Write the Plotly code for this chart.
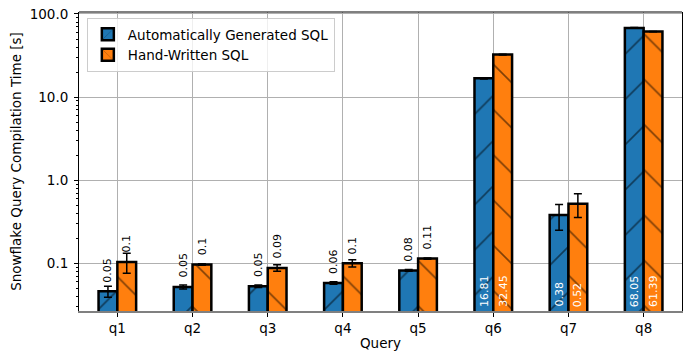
import plotly.graph_objects as go
import math

queries = ["q1", "q2", "q3", "q4", "q5", "q6", "q7", "q8"]
auto_vals = [0.046, 0.052, 0.053, 0.058, 0.082, 16.81, 0.38, 68.05]
auto_err = [0.007, 0.003, 0.002, 0.002, 0.002, 0.3, 0.13, 0.6]
hand_vals = [0.104, 0.097, 0.088, 0.100, 0.114, 32.45, 0.52, 61.39]
hand_err = [0.028, 0.002, 0.008, 0.010, 0.002, 0.3, 0.165, 0.3]
ytick_vals = [0.1, 1, 10, 100]
ytick_text = ["0.1", "1.0", "10.0", "100.0"]

FONT = "DejaVu Sans"
BLUE = "#1f77b4"
ORANGE = "#ff7f0e"

fig = go.Figure()
for name, vals, errs, color, shape in [
    ("Automatically Generated SQL", auto_vals, auto_err, BLUE, "/"),
    ("Hand-Written SQL", hand_vals, hand_err, ORANGE, "\\"),
]:
    fig.add_trace(go.Bar(
        x=queries, y=vals, name=name,
        marker=dict(color=color, line=dict(color="black", width=2.5),
                    pattern=dict(shape=shape, size=32, solidity=0.05,
                                 fgcolor="black", bgcolor=color)),
        error_y=dict(type="data", array=errs, visible=True, color="black",
                     thickness=1.5, width=4),
    ))

annotations = []
for offset, vals in [(-0.125, auto_vals), (0.125, hand_vals)]:
    for i, v in enumerate(vals):
        label = str(round(v, 2))
        if v > 0.3:
            annotations.append(dict(
                x=i + offset, y=0, xref="x", yref="paper", text=label,
                textangle=-90, showarrow=False, yanchor="bottom", xanchor="center",
                yshift=2, font=dict(family=FONT, size=11, color="white")))
        else:
            annotations.append(dict(
                x=i + offset, y=math.log10(v), xref="x", yref="y", text=label,
                textangle=-90, showarrow=False, yanchor="bottom", xanchor="center",
                yshift=7, font=dict(family=FONT, size=11, color="black")))

fig.update_layout(
    width=694, height=353,
    margin=dict(l=79, r=12, t=12, b=42, autoexpand=False),
    paper_bgcolor="white", plot_bgcolor="white",
    barmode="group", bargap=0.5, bargroupgap=0,
    font=dict(family=FONT, size=13.5, color="black"),
    showlegend=True,
    legend=dict(x=0.013, y=0.98, xanchor="left", yanchor="top",
                bgcolor="rgba(255,255,255,0.8)", bordercolor="#cccccc", borderwidth=1,
                font=dict(family=FONT, size=13.5), tracegroupgap=0),
    annotations=annotations,
    shapes=[dict(type="line", xref="paper", yref="paper", x0=0, x1=1, y0=1, y1=1,
                 line=dict(color="black", width=1))],
)
fig.update_xaxes(
    range=[-0.51, 7.51], showgrid=True, gridcolor="#b0b0b0", gridwidth=1,
    showline=True, linecolor="#808080", linewidth=2,
    ticks="outside", ticklen=4, tickcolor="black", automargin=False,
    title=dict(text="Query", font=dict(family=FONT, size=13.5), standoff=3),
)
fig.update_yaxes(
    type="log", range=[-1.574, 2.024],
    tickmode="array", tickvals=ytick_vals, ticktext=ytick_text,
    showgrid=True, gridcolor="#b0b0b0", gridwidth=1,
    showline=True, linecolor="black", linewidth=1, mirror=True,
    ticks="outside", ticklen=4, tickcolor="black", automargin=False,
    ticklabelstandoff=3,
    minor=dict(ticks="outside", ticklen=2, tickcolor="black", dtick="D1", showgrid=False),
    title=dict(text="Snowflake Query Compilation Time [s]", font=dict(family=FONT, size=13.5), standoff=4),
    zeroline=False,
)

fig.write_html("out.html", config={"displayModeBar": False},
               post_script="document.body.style.margin='0';document.body.style.padding='0';")
